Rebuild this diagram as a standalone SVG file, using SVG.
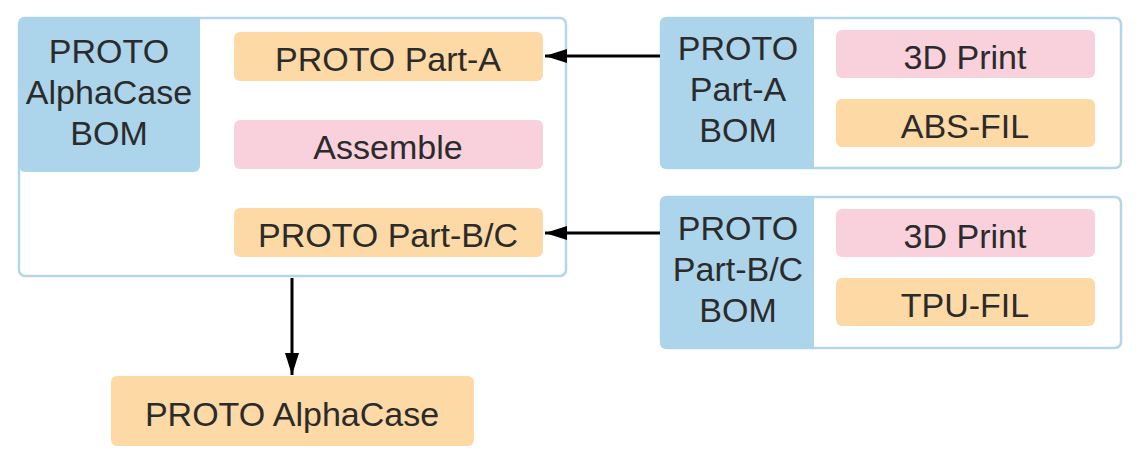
<svg xmlns="http://www.w3.org/2000/svg" width="1141" height="467" viewBox="0 0 1141 467">
<defs>
<style>
.cont{fill:#ffffff;stroke:#b3d7e8;stroke-width:2.5}
.hdr{fill:#acd4ea}
.or{fill:#fdd9a5}
.pk{fill:#f8d1dd}
text{font-family:"Liberation Sans",Arial,sans-serif;font-size:34px;fill:#2b2b2b;text-anchor:middle}
.con{stroke:#000;stroke-width:3;fill:none}
</style>
<marker id="ah" viewBox="0 0 22 14" refX="22" refY="7" markerWidth="22" markerHeight="14" markerUnits="userSpaceOnUse" orient="auto">
<path d="M0,0 L22,7 L0,14 z" fill="#000"/>
</marker>
</defs>
<rect width="1141" height="467" fill="#ffffff"/>
<g id="alphacase-bom">
<rect class="cont" x="19" y="18" width="547" height="258" rx="6"/>
<path class="hdr" d="M25,17 H200 V166 a6,6 0 0 1 -6,6 H25 a6,6 0 0 1 -6,-6 V23 a6,6 0 0 1 6,-6 z"/>
<text x="109" y="63">PROTO</text>
<text x="109" y="104">AlphaCase</text>
<text x="109" y="145">BOM</text>
</g>
<g id="part-a"><rect class="or" x="234" y="32" width="309" height="49" rx="6"/><text x="388" y="71">PROTO Part-A</text></g>
<g id="assemble"><rect class="pk" x="234" y="120" width="309" height="49" rx="6"/><text x="388" y="159">Assemble</text></g>
<g id="part-bc"><rect class="or" x="234" y="208" width="309" height="49" rx="6"/><text x="388" y="247">PROTO Part-B/C</text></g>
<g id="part-a-bom">
<rect class="cont" x="661" y="18" width="460" height="150" rx="6"/>
<path class="hdr" d="M666,17 H814 V169 H666 a6,6 0 0 1 -6,-6 V23 a6,6 0 0 1 6,-6 z"/>
<text x="738" y="60">PROTO</text>
<text x="738" y="101">Part-A</text>
<text x="738" y="142">BOM</text>
</g>
<g id="print-a"><rect class="pk" x="836" y="30" width="259" height="48" rx="6"/><text x="965" y="69">3D Print</text></g>
<g id="abs-fil"><rect class="or" x="836" y="99" width="259" height="48" rx="6"/><text x="965" y="138">ABS-FIL</text></g>
<g id="part-bc-bom">
<rect class="cont" x="661" y="197" width="460" height="151" rx="6"/>
<path class="hdr" d="M666,196 H814 V349 H666 a6,6 0 0 1 -6,-6 V202 a6,6 0 0 1 6,-6 z"/>
<text x="738" y="240">PROTO</text>
<text x="738" y="281">Part-B/C</text>
<text x="738" y="322">BOM</text>
</g>
<g id="print-bc"><rect class="pk" x="836" y="209" width="259" height="48" rx="6"/><text x="965" y="248">3D Print</text></g>
<g id="tpu-fil"><rect class="or" x="836" y="278" width="259" height="48" rx="6"/><text x="965" y="317">TPU-FIL</text></g>
<g id="alphacase"><rect class="or" x="111" y="376" width="363" height="70" rx="6"/><text x="292" y="426">PROTO AlphaCase</text></g>
<g id="connectors">
<line class="con" x1="660" y1="56" x2="545" y2="56" marker-end="url(#ah)"/>
<line class="con" x1="660" y1="233" x2="545" y2="233" marker-end="url(#ah)"/>
<line class="con" x1="292" y1="278" x2="292" y2="375" marker-end="url(#ah)"/>
</g>
</svg>
